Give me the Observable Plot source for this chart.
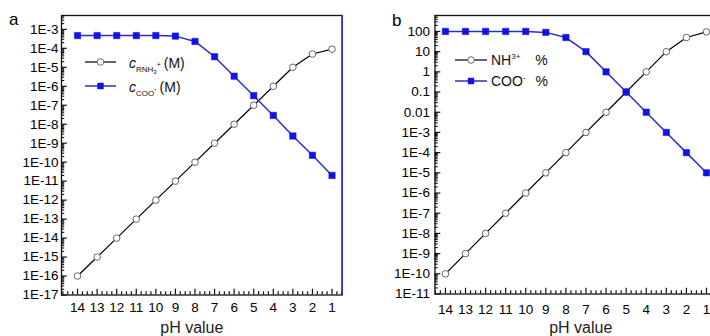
<!DOCTYPE html>
<html><head><meta charset="utf-8">
<script src="https://cdn.jsdelivr.net/npm/d3@7"></script>
<script src="https://cdn.jsdelivr.net/npm/@observablehq/plot@0.6"></script>
<style>
body{margin:0;background:#fff;overflow:hidden;}
#wrap{position:relative;width:710px;height:336px;overflow:hidden;font-family:"Liberation Sans",Arial,sans-serif;}
.panel{position:absolute;top:0;}
</style></head>
<body><div id="wrap"></div>
<script>
// ---- data ----
const pH = [14, 13, 12, 11, 10, 9, 8, 7, 6, 5, 4, 3, 2, 1];
// panel a: concentrations (M)
const cRNH3 = [1e-16, 1e-15, 1e-14, 1e-13, 1e-12, 1e-11, 1e-10, 1e-9, 1e-8, 1e-7, 1e-6, 1e-5, 5e-5, 9e-5];
const cCOO  = [4.7e-4, 4.7e-4, 4.7e-4, 4.7e-4, 4.7e-4, 4.4e-4, 2.3e-4, 3.6e-5, 3.4e-6, 3.2e-7, 2.9e-8, 2.4e-9, 2.3e-10, 2e-11];
// panel b: percentages
const pctNH3 = [1e-10, 1e-9, 1e-8, 1e-7, 1e-6, 1e-5, 1e-4, 1e-3, 0.01, 0.1, 1, 10, 50, 95];
const pctCOO = [100, 100, 100, 100, 100, 90, 50, 10, 1, 0.1, 0.01, 1e-3, 1e-4, 1e-5];
// ticks
const xTicks = [14, 13, 12, 11, 10, 9, 8, 7, 6, 5, 4, 3, 2, 1];
const yTicksA = [1e-17, 1e-16, 1e-15, 1e-14, 1e-13, 1e-12, 1e-11, 1e-10, 1e-9, 1e-8, 1e-7, 1e-6, 1e-5, 1e-4, 1e-3];
const yLabelsA = ["1E-17", "1E-16", "1E-15", "1E-14", "1E-13", "1E-12", "1E-11", "1E-10", "1E-9", "1E-8", "1E-7", "1E-6", "1E-5", "1E-4", "1E-3"];
const yTicksB = [1e-11, 1e-10, 1e-9, 1e-8, 1e-7, 1e-6, 1e-5, 1e-4, 1e-3, 0.01, 0.1, 1, 10, 100];
const yLabelsB = ["1E-11", "1E-10", "1E-9", "1E-8", "1E-7", "1E-6", "1E-5", "1E-4", "1E-3", "0.01", "0.1", "1", "10", "100"];

const blue = "#1212e4";
const blueLine = "#2d2dc6";

function makePanel(o) {
  const innerW = o.width - o.marginLeft - o.marginRight;
  const innerH = o.height - o.marginTop - o.marginBottom;
  const y0 = o.yDomain[0], yTop = o.yDomain[1];
  const x0 = o.xDomain[0];
  // tick lengths in pixels converted to scale units (ticks point into the frame)
  const pxDec = innerH / (Math.log10(yTop) - Math.log10(y0));
  const yAt = px => y0 * Math.pow(10, px / pxDec);
  const pxUnit = innerW / Math.abs(o.xDomain[0] - o.xDomain[1]);
  const xAt = px => x0 - px / pxUnit;
  const yMinor = [];
  for (const t of o.yTicks) for (let m = 2; m <= 9; m++) { const v = t * m; if (v < yTop) yMinor.push(v); }
  const xLo = Math.min(...o.xDomain), xHi = Math.max(...o.xDomain);
  const xMinor = [];
  for (let v = Math.ceil(xLo * 4) / 4; v <= xHi; v += 0.25) if (v % 1 !== 0) xMinor.push(v);
  const labelMap = new Map(o.yTicks.map((v, i) => [v, o.yLabels[i]]));
  const data = pH.map((p, i) => ({pH: p, a: o.s1[i], b: o.s2[i]}));
  const tickCol = "#111";
  const svg = Plot.plot({
    width: o.width, height: o.height,
    marginLeft: o.marginLeft, marginRight: o.marginRight, marginTop: o.marginTop, marginBottom: o.marginBottom,
    x: {domain: o.xDomain},
    y: {type: "log", domain: o.yDomain},
    style: {fontFamily: "'Liberation Sans', Arial, sans-serif", background: "transparent", overflow: "visible", color: "#000"},
    marks: [
      Plot.frame({stroke: "#111", strokeWidth: 1.3, fill: "none"}),
      Plot.ruleX(xMinor, {x: d => d, y1: () => y0, y2: () => yAt(3.2), stroke: tickCol, strokeWidth: 1.2}),
      Plot.ruleX(xTicks, {x: d => d, y1: () => y0, y2: () => yAt(5.8), stroke: tickCol, strokeWidth: 1.2}),
      Plot.ruleY(yMinor, {y: d => d, x1: () => x0, x2: () => xAt(3.2), stroke: tickCol, strokeWidth: 1.1}),
      Plot.ruleY(o.yTicks, {y: d => d, x1: () => x0, x2: () => xAt(5.8), stroke: tickCol, strokeWidth: 1.2}),
      Plot.axisX(xTicks, {tickSize: 0, tickPadding: o.xPad, tickFormat: d => String(d), fontSize: 13.5, label: null}),
      Plot.axisY(o.yTicks, {tickSize: 0, tickPadding: o.yPad, tickFormat: d => labelMap.get(d), fontSize: 13.5, label: null}),
      Plot.ruleX([o.xDomain[1]], {stroke: blueLine, strokeWidth: 1.6}),
      Plot.line(data, {x: "pH", y: "a", stroke: "#000", strokeWidth: 1.2}),
      Plot.line(data, {x: "pH", y: "b", stroke: blueLine, strokeWidth: 1.5}),
      Plot.dot(data, {x: "pH", y: "a", r: 3.3, fill: "#fff", stroke: "#666", strokeWidth: 1}),
      Plot.dot(data, {x: "pH", y: "b", symbol: "square", r: 3.6, fill: blue, stroke: blue, strokeWidth: 0.5}),
      Plot.text(["pH value"], {frameAnchor: "bottom", lineAnchor: "bottom", dx: o.labelDx, dy: o.labelDy, fontSize: 16, fill: "#222"})
    ]
  });
  svg.classList.add("panel");
  svg.style.left = o.left + "px";
  return svg;
}

const wrap = document.getElementById("wrap");
wrap.appendChild(makePanel({
  left: 0, width: 355, height: 336,
  marginLeft: 61, marginRight: 13.3, marginTop: 15, marginBottom: 41.5,
  xDomain: [14.82, 0.48], yDomain: [1e-17, Math.pow(10, -2.27)],
  yTicks: yTicksA, yLabels: yLabelsA, s1: cRNH3, s2: cCOO,
  xPad: 7, yPad: 3, labelDx: -10, labelDy: 37.5
}));
wrap.appendChild(makePanel({
  left: 355, width: 375, height: 336,
  marginLeft: 79.5, marginRight: 14, marginTop: 15, marginBottom: 42.5,
  xDomain: [14.52, 0.5], yDomain: [1e-11, Math.pow(10, 2.79)],
  yTicks: yTicksB, yLabels: yLabelsB, s1: pctNH3, s2: pctCOO,
  xPad: 10, yPad: 5, labelDx: 5, labelDy: 38.5
}));

// ---- legends and panel letters ----
const ov = d3.select("#wrap").append("svg")
  .attr("width", 710).attr("height", 336)
  .style("position", "absolute").style("left", 0).style("top", 0)
  .attr("font-family", "'Liberation Sans', Arial, sans-serif");

function legSymbol(x0, x1, y, kind) {
  if (kind === "circle") {
    ov.append("line").attr("x1", x0).attr("x2", x1).attr("y1", y).attr("y2", y).attr("stroke", "#000").attr("stroke-width", 1.2);
    ov.append("circle").attr("cx", (x0 + x1) / 2).attr("cy", y).attr("r", 3.3).attr("fill", "#fff").attr("stroke", "#666");
  } else {
    ov.append("line").attr("x1", x0).attr("x2", x1).attr("y1", y).attr("y2", y).attr("stroke", blueLine).attr("stroke-width", 1.5);
    ov.append("rect").attr("x", (x0 + x1) / 2 - 3.2).attr("y", y - 3.2).attr("width", 6.4).attr("height", 6.4).attr("fill", blue);
  }
}

ov.append("text").attr("x", 9).attr("y", 25).attr("font-size", 17).text("a");
ov.append("text").attr("x", 392).attr("y", 26).attr("font-size", 17).text("b");

// panel a legend
legSymbol(85, 116, 62, "circle");
legSymbol(85, 116, 86, "square");
let t = ov.append("text").attr("x", 129).attr("y", 67.5).attr("font-size", 14).attr("fill", "#111");
t.append("tspan").attr("font-style", "italic").text("c");
t.append("tspan").attr("font-size", 8).attr("dy", 4).text("RNH");
t.append("tspan").attr("font-size", 6).attr("dy", 2).text("3");
t.append("tspan").attr("font-size", 7).attr("dy", -7).text("+");
t.append("tspan").attr("font-size", 14).attr("dy", 1).attr("dx", 3).text("(M)");
t = ov.append("text").attr("x", 129).attr("y", 91.5).attr("font-size", 14).attr("fill", "#111");
t.append("tspan").attr("font-style", "italic").text("c");
t.append("tspan").attr("font-size", 8).attr("dy", 4).text("COO");
t.append("tspan").attr("font-size", 7).attr("dy", -5).text("-");
t.append("tspan").attr("font-size", 14).attr("dy", 1).attr("dx", 3).text("(M)");

// panel b legend
legSymbol(455, 487, 60, "circle");
legSymbol(455, 487, 81, "square");
t = ov.append("text").attr("x", 491).attr("y", 65).attr("font-size", 14).attr("fill", "#111");
t.append("tspan").text("NH");
t.append("tspan").attr("font-size", 8).attr("dy", -6).text("3+");
t.append("tspan").attr("font-size", 14).attr("dy", 6).attr("dx", 15).text("%");
t = ov.append("text").attr("x", 491).attr("y", 86).attr("font-size", 14).attr("fill", "#111");
t.append("tspan").text("COO");
t.append("tspan").attr("font-size", 8).attr("dy", -6).text("-");
t.append("tspan").attr("font-size", 14).attr("dy", 6).attr("dx", 10).text("%");
</script>
</body></html>
